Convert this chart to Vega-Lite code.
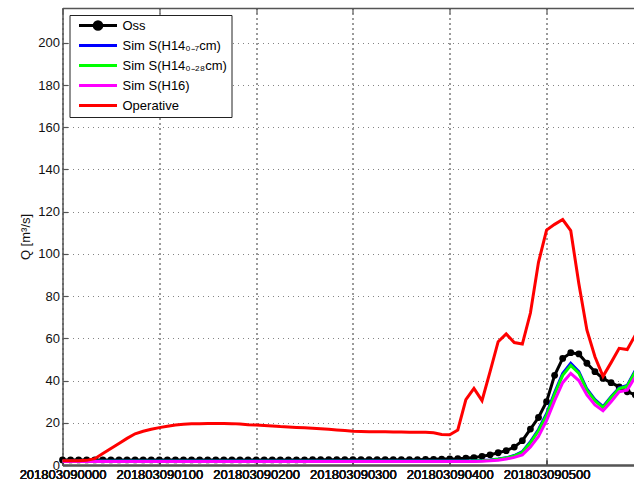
{
  "$schema": "https://vega.github.io/schema/vega-lite/v6.json",
  "width": 571.5,
  "height": 457,
  "autosize": {"type": "none"},
  "padding": {"left": 62.5, "top": 8, "right": 0, "bottom": 15},
  "background": "white",
  "config": {
    "font": "Liberation Sans",
    "view": {"stroke": null}
  },
  "data": {
    "values": [
      {"m": 0, "oss": 2.4, "h7": 1.9, "h28": 1.8, "h16": 1.6, "op": 2.0},
      {"m": 5, "oss": 2.4, "h7": 1.9, "h28": 1.8, "h16": 1.6, "op": 2.0},
      {"m": 10, "oss": 2.4, "h7": 1.9, "h28": 1.8, "h16": 1.6, "op": 2.0},
      {"m": 15, "oss": 2.4, "h7": 1.9, "h28": 1.8, "h16": 1.6, "op": 2.2},
      {"m": 20, "oss": 2.4, "h7": 1.9, "h28": 1.8, "h16": 1.6, "op": 3.0},
      {"m": 25, "oss": 2.4, "h7": 1.9, "h28": 1.8, "h16": 1.6, "op": 5.4},
      {"m": 30, "oss": 2.4, "h7": 1.9, "h28": 1.8, "h16": 1.6, "op": 7.8},
      {"m": 35, "oss": 2.4, "h7": 1.9, "h28": 1.8, "h16": 1.6, "op": 10.2},
      {"m": 40, "oss": 2.4, "h7": 1.9, "h28": 1.8, "h16": 1.6, "op": 12.6},
      {"m": 45, "oss": 2.4, "h7": 1.9, "h28": 1.8, "h16": 1.6, "op": 14.8},
      {"m": 50, "oss": 2.4, "h7": 1.9, "h28": 1.8, "h16": 1.6, "op": 16.0},
      {"m": 55, "oss": 2.4, "h7": 1.9, "h28": 1.8, "h16": 1.6, "op": 16.9},
      {"m": 60, "oss": 2.4, "h7": 1.9, "h28": 1.8, "h16": 1.6, "op": 17.7},
      {"m": 65, "oss": 2.4, "h7": 1.9, "h28": 1.8, "h16": 1.6, "op": 18.4},
      {"m": 70, "oss": 2.4, "h7": 1.9, "h28": 1.8, "h16": 1.6, "op": 19.0},
      {"m": 75, "oss": 2.4, "h7": 1.9, "h28": 1.8, "h16": 1.6, "op": 19.3},
      {"m": 80, "oss": 2.4, "h7": 1.9, "h28": 1.8, "h16": 1.6, "op": 19.5},
      {"m": 85, "oss": 2.4, "h7": 1.9, "h28": 1.8, "h16": 1.6, "op": 19.6},
      {"m": 90, "oss": 2.4, "h7": 1.9, "h28": 1.8, "h16": 1.6, "op": 19.7},
      {"m": 95, "oss": 2.4, "h7": 1.9, "h28": 1.8, "h16": 1.6, "op": 19.7},
      {"m": 100, "oss": 2.4, "h7": 1.9, "h28": 1.8, "h16": 1.6, "op": 19.7},
      {"m": 105, "oss": 2.4, "h7": 1.9, "h28": 1.8, "h16": 1.6, "op": 19.6},
      {"m": 110, "oss": 2.4, "h7": 1.9, "h28": 1.8, "h16": 1.6, "op": 19.4},
      {"m": 115, "oss": 2.4, "h7": 1.9, "h28": 1.8, "h16": 1.6, "op": 19.1},
      {"m": 120, "oss": 2.4, "h7": 1.9, "h28": 1.8, "h16": 1.6, "op": 18.9},
      {"m": 125, "oss": 2.4, "h7": 1.9, "h28": 1.8, "h16": 1.6, "op": 18.7},
      {"m": 130, "oss": 2.4, "h7": 1.9, "h28": 1.8, "h16": 1.6, "op": 18.5},
      {"m": 135, "oss": 2.4, "h7": 1.9, "h28": 1.8, "h16": 1.6, "op": 18.2},
      {"m": 140, "oss": 2.4, "h7": 1.9, "h28": 1.8, "h16": 1.6, "op": 18.0},
      {"m": 145, "oss": 2.4, "h7": 1.9, "h28": 1.8, "h16": 1.6, "op": 17.8},
      {"m": 150, "oss": 2.4, "h7": 1.9, "h28": 1.8, "h16": 1.6, "op": 17.6},
      {"m": 155, "oss": 2.5, "h7": 1.9, "h28": 1.8, "h16": 1.6, "op": 17.4},
      {"m": 160, "oss": 2.5, "h7": 1.9, "h28": 1.8, "h16": 1.6, "op": 17.2},
      {"m": 165, "oss": 2.5, "h7": 1.9, "h28": 1.8, "h16": 1.6, "op": 16.9},
      {"m": 170, "oss": 2.5, "h7": 1.9, "h28": 1.8, "h16": 1.6, "op": 16.6},
      {"m": 175, "oss": 2.5, "h7": 1.9, "h28": 1.8, "h16": 1.6, "op": 16.3},
      {"m": 180, "oss": 2.5, "h7": 1.9, "h28": 1.8, "h16": 1.6, "op": 16.0},
      {"m": 185, "oss": 2.5, "h7": 1.9, "h28": 1.8, "h16": 1.6, "op": 15.9},
      {"m": 190, "oss": 2.5, "h7": 1.9, "h28": 1.8, "h16": 1.6, "op": 15.8},
      {"m": 195, "oss": 2.5, "h7": 1.9, "h28": 1.8, "h16": 1.6, "op": 15.7},
      {"m": 200, "oss": 2.5, "h7": 1.9, "h28": 1.8, "h16": 1.6, "op": 15.7},
      {"m": 205, "oss": 2.5, "h7": 1.9, "h28": 1.8, "h16": 1.6, "op": 15.6},
      {"m": 210, "oss": 2.5, "h7": 1.9, "h28": 1.8, "h16": 1.6, "op": 15.6},
      {"m": 215, "oss": 2.5, "h7": 1.9, "h28": 1.8, "h16": 1.6, "op": 15.5},
      {"m": 220, "oss": 2.5, "h7": 1.9, "h28": 1.8, "h16": 1.6, "op": 15.5},
      {"m": 225, "oss": 2.6, "h7": 1.9, "h28": 1.8, "h16": 1.6, "op": 15.5},
      {"m": 230, "oss": 2.7, "h7": 1.9, "h28": 1.8, "h16": 1.6, "op": 15.3},
      {"m": 235, "oss": 2.8, "h7": 1.9, "h28": 1.8, "h16": 1.6, "op": 14.5},
      {"m": 240, "oss": 2.9, "h7": 1.9, "h28": 1.8, "h16": 1.6, "op": 14.3},
      {"m": 245, "oss": 3.0, "h7": 1.9, "h28": 1.8, "h16": 1.6, "op": 16.6},
      {"m": 250, "oss": 3.2, "h7": 1.9, "h28": 1.8, "h16": 1.6, "op": 31.0},
      {"m": 255, "oss": 3.5, "h7": 2.0, "h28": 1.9, "h16": 1.7, "op": 36.3},
      {"m": 260, "oss": 4.1, "h7": 2.1, "h28": 2.0, "h16": 1.8, "op": 30.5},
      {"m": 265, "oss": 4.8, "h7": 2.4, "h28": 2.3, "h16": 2.0, "op": 44.2},
      {"m": 270, "oss": 5.8, "h7": 2.8, "h28": 2.7, "h16": 2.3, "op": 58.4},
      {"m": 275, "oss": 6.8, "h7": 3.4, "h28": 3.3, "h16": 2.8, "op": 62.1},
      {"m": 280, "oss": 8.5, "h7": 4.5, "h28": 4.3, "h16": 3.6, "op": 58.0},
      {"m": 285, "oss": 11.5, "h7": 6.3, "h28": 6.0, "h16": 4.8, "op": 57.3},
      {"m": 290, "oss": 17.0, "h7": 11.0, "h28": 10.5, "h16": 8.5, "op": 72.0},
      {"m": 295, "oss": 22.5, "h7": 16.8, "h28": 16.2, "h16": 13.5, "op": 96.0},
      {"m": 300, "oss": 30.0, "h7": 24.3, "h28": 23.5, "h16": 21.0, "op": 111.3},
      {"m": 305, "oss": 42.5, "h7": 34.3, "h28": 33.5, "h16": 30.5, "op": 114.0},
      {"m": 310, "oss": 50.5, "h7": 43.3, "h28": 42.5, "h16": 39.0, "op": 116.3},
      {"m": 315, "oss": 53.2, "h7": 48.2, "h28": 47.2, "h16": 43.4, "op": 111.0},
      {"m": 320, "oss": 52.6, "h7": 44.3, "h28": 43.5, "h16": 40.0, "op": 86.0},
      {"m": 325, "oss": 48.2, "h7": 36.0, "h28": 35.5, "h16": 33.2, "op": 64.0},
      {"m": 330, "oss": 44.2, "h7": 31.0, "h28": 30.5, "h16": 28.5, "op": 51.3},
      {"m": 335, "oss": 41.0, "h7": 27.6, "h28": 27.2, "h16": 25.7, "op": 42.0},
      {"m": 340, "oss": 39.0, "h7": 32.4, "h28": 32.0, "h16": 30.0, "op": 48.5},
      {"m": 345, "oss": 37.0, "h7": 36.6, "h28": 36.2, "h16": 34.7, "op": 55.3},
      {"m": 350, "oss": 34.7, "h7": 37.7, "h28": 37.3, "h16": 35.5, "op": 54.7},
      {"m": 355, "oss": 33.2, "h7": 44.8, "h28": 44.2, "h16": 41.8, "op": 61.5}
    ]
  },
  "transform": [
    {"fold": ["oss", "h7", "h28", "h16", "op"], "as": ["series", "q"]}
  ],
  "encoding": {
    "x": {
      "field": "m",
      "type": "quantitative",
      "scale": {"domain": [0, 354.2], "nice": false, "zero": false},
      "axis": {
        "orient": "bottom",
        "title": null,
        "values": [0, 60, 120, 180, 240, 300],
        "labelExpr": "'20180309' + (datum.value < 600 ? '0' : '') + (datum.value / 60) + '00'",
        "labelFlush": false,
        "labelOverlap": false,
        "labelFontSize": 13,
        "labelColor": "#111",
        "labelPadding": 8,
        "grid": true,
        "gridDash": [1, 4],
        "gridColor": "#777",
        "gridOpacity": 0.9,
        "gridWidth": 1,
        "domainColor": "#555",
        "domainWidth": 1.5,
        "tickColor": "#555",
        "tickSize": -5,
        "tickWidth": 1.2
      }
    },
    "y": {
      "field": "q",
      "type": "quantitative",
      "scale": {"domain": [0, 216.5], "nice": false},
      "axis": {
        "title": "Q [m³/s]",
        "titleFontSize": 13,
        "titleFontWeight": "normal",
        "titleColor": "#111",
        "titlePadding": 5,
        "values": [0, 20, 40, 60, 80, 100, 120, 140, 160, 180, 200],
        "labelFlush": false,
        "labelFontSize": 13,
        "labelColor": "#111",
        "labelPadding": 8,
        "grid": true,
        "gridDash": [1, 4],
        "gridColor": "#777",
        "gridOpacity": 0.9,
        "gridWidth": 1,
        "domainColor": "#555",
        "domainWidth": 1.5,
        "tickColor": "#555",
        "tickSize": -5,
        "tickWidth": 1.2
      }
    },
    "color": {
      "field": "series",
      "type": "nominal",
      "scale": {
        "domain": ["oss", "h7", "h28", "h16", "op"],
        "range": ["#000000", "#0000ff", "#00ff00", "#ff00ff", "#ff0000"]
      },
      "legend": {
        "orient": "top-left",
        "offset": 7,
        "title": null,
        "fillColor": "white",
        "strokeColor": "#222",
        "padding": 4,
        "symbolType": "stroke",
        "symbolSize": 1444,
        "symbolStrokeWidth": 3,
        "symbolOffset": 4,
        "clipHeight": 13,
        "labelOffset": 4,
        "rowPadding": 6,
        "labelFontSize": 13,
        "labelColor": "#000",
        "labelExpr": "{'oss': 'Oss', 'h7': 'Sim S(H14₀₋₇cm)', 'h28': 'Sim S(H14₀₋₂₈cm)', 'h16': 'Sim S(H16)', 'op': 'Operative'}[datum.value]",
        "encode": {
          "symbols": {
            "update": {
              "shape": {"signal": "datum.value === 'oss' ? 'M-1,0L1,0M-0.2,0A0.2,0.2,0,1,0,0.2,0A0.2,0.2,0,1,0,-0.2,0Z' : 'stroke'"},
              "fill": {"signal": "datum.value === 'oss' ? '#000' : 'transparent'"}
            }
          }
        }
      }
    }
  },
  "layer": [
    {
      "transform": [{"filter": "datum.series === 'oss'"}],
      "mark": {"type": "line", "strokeWidth": 3}
    },
    {
      "transform": [{"filter": "datum.series === 'oss'"}],
      "mark": {"type": "point", "filled": true, "size": 46, "opacity": 1, "shape": "circle"},
      "encoding": {
        "x": {
          "field": "m",
          "type": "quantitative",
          "axis": {
            "orient": "top",
            "title": null,
            "values": [0, 60, 120, 180, 240, 300],
            "labels": false,
            "grid": false,
            "domainColor": "#555",
            "domainWidth": 1.5,
            "tickColor": "#555",
            "tickSize": -5,
            "tickWidth": 1.2
          }
        }
      }
    },
    {
      "transform": [{"filter": "datum.series === 'h7'"}],
      "mark": {"type": "line", "strokeWidth": 3}
    },
    {
      "transform": [{"filter": "datum.series === 'h28'"}],
      "mark": {"type": "line", "strokeWidth": 3}
    },
    {
      "transform": [{"filter": "datum.series === 'h16'"}],
      "mark": {"type": "line", "strokeWidth": 3}
    },
    {
      "transform": [{"filter": "datum.series === 'op'"}],
      "mark": {"type": "line", "strokeWidth": 3}
    }
  ],
  "resolve": {"axis": {"x": "independent"}}
}
